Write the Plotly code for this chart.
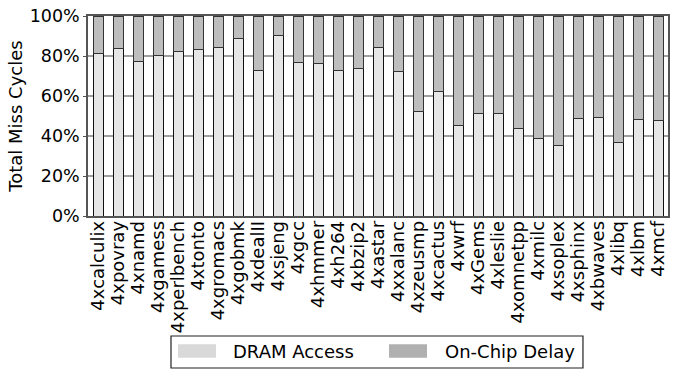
import plotly.graph_objects as go

benchmarks = [
    "4xcalculix", "4xpovray", "4xnamd", "4xgamess", "4xperlbench", "4xtonto",
    "4xgromacs", "4xgobmk", "4xdealII", "4xsjeng", "4xgcc", "4xhmmer", "4xh264",
    "4xbzip2", "4xastar", "4xxalanc", "4xzeusmp", "4xcactus", "4xwrf", "4xGems",
    "4xleslie", "4xomnetpp", "4xmilc", "4xsoplex", "4xsphinx", "4xbwaves",
    "4xlibq", "4xlbm", "4xmcf",
]
dram_access = [
    81.5, 83.7, 77.3, 80.5, 82.2, 83.2, 84.5, 88.7, 73.0, 90.3, 76.7, 76.2, 73.0,
    73.8, 84.3, 72.3, 52.5, 62.2, 45.3, 51.5, 51.5, 44.0, 39.0, 35.3, 48.7, 49.2,
    36.7, 48.2, 47.8,
]
on_chip_delay = [round(100 - v, 1) for v in dram_access]
series_names = ["DRAM Access", "On-Chip Delay"]

font = "DejaVu Sans"
bar_colors = ["#e6e6e6", "#bebebe"]
legend_colors = ["#d9d9d9", "#b0b0b0"]

fig = go.Figure()
fig.add_trace(go.Bar(
    x=benchmarks, y=dram_access, name=series_names[0],
    marker=dict(color=bar_colors[0], line=dict(color="#111111", width=1)),
))
fig.add_trace(go.Bar(
    x=benchmarks, y=on_chip_delay, name=series_names[1],
    marker=dict(color=bar_colors[1], line=dict(color="#333333", width=1)),
))

# legend drawn by hand (wide swatches, boxed) below the tick labels
shapes = [dict(type="rect", xref="paper", yref="paper",
               x0=0.1431, x1=0.8534, y0=-0.76, y1=-0.60,
               line=dict(color="#222222", width=1.2), fillcolor="white")]
annotations = []
for name, col, sx, tx in zip(series_names, legend_colors, [0.1552, 0.519], [0.2466, 0.612]):
    shapes.append(dict(type="rect", xref="paper", yref="paper",
                       x0=sx, x1=sx + 0.0655, y0=-0.7085, y1=-0.6415,
                       line=dict(width=0), fillcolor=col))
    annotations.append(dict(text=name, xref="paper", yref="paper", x=tx, y=-0.675,
                            xanchor="left", yanchor="middle", showarrow=False,
                            font=dict(size=18)))

fig.update_layout(
    barmode="stack",
    bargap=0.5,
    width=676, height=377,
    margin=dict(l=88, r=8, t=16, b=161, autoexpand=False),
    paper_bgcolor="white", plot_bgcolor="white",
    font=dict(family=font, size=16, color="black"),
    showlegend=False,
    shapes=shapes,
    annotations=annotations,
    xaxis=dict(
        tickmode="array", tickvals=benchmarks, ticktext=benchmarks,
        tickangle=-90, showline=True, linecolor="#555555", linewidth=1.5,
        mirror=True, ticks="", showgrid=False, tickfont=dict(size=18),
        ticklabelstandoff=-4, automargin=False,
    ),
    yaxis=dict(
        range=[0, 100], dtick=20, ticksuffix="%", showline=True,
        linecolor="#555555", linewidth=1.5, mirror=True,
        ticks="outside", ticklen=3, tickcolor="#555555",
        gridcolor="#a0a0a0", gridwidth=1.5, tickfont=dict(size=17.5),
        title=dict(text="Total Miss Cycles", font=dict(size=18), standoff=2),
        automargin=False,
    ),
)

# page body has a default 8px margin, drop it so the figure sits at 0,0
fig.write_html("out.html", config={"displayModeBar": False},
               post_script="document.body.style.margin='0';")
